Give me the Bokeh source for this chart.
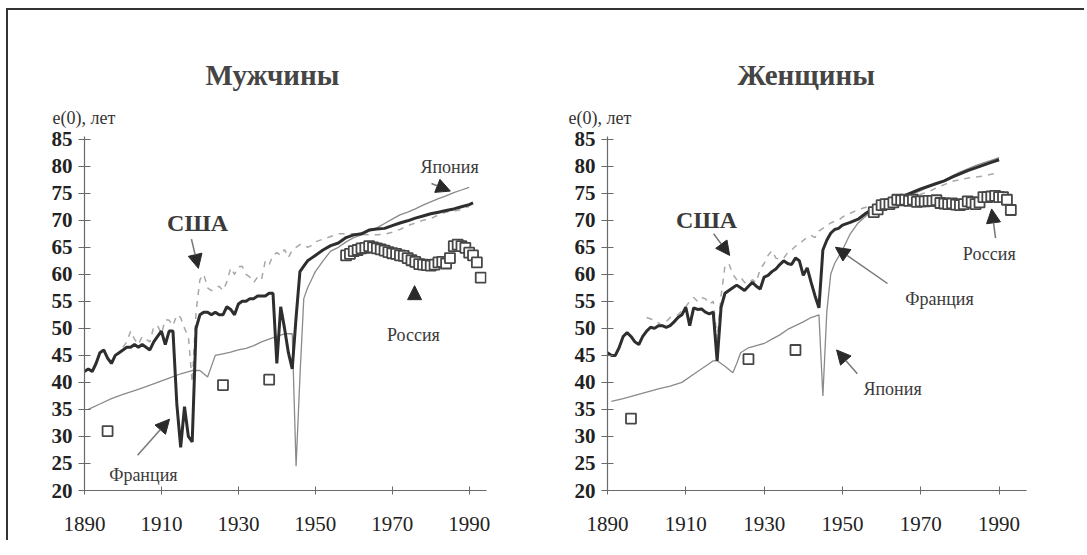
from bokeh.plotting import figure
from bokeh.models import Range1d, FixedTicker, Label, Arrow, NormalHead, Title
from bokeh.layouts import row
from bokeh.embed import file_html
from bokeh.resources import INLINE

# ---------------- data: men ----------------
fr_m_years = [1890, 1891, 1892, 1893, 1894, 1895, 1896, 1897, 1898, 1899,
              1900, 1901, 1902, 1903, 1904, 1905, 1906, 1907, 1908, 1909,
              1910, 1911, 1912, 1913, 1914, 1915, 1916, 1917, 1918, 1919,
              1920, 1921, 1922, 1923, 1924, 1925, 1926, 1927, 1928, 1929,
              1930, 1931, 1932, 1933, 1934, 1935, 1936, 1937, 1938, 1939,
              1940, 1941, 1942, 1943, 1944, 1945, 1946, 1947, 1948, 1949,
              1950, 1952, 1954, 1956, 1958, 1960, 1962, 1964, 1966, 1968,
              1970, 1972, 1974, 1976, 1978, 1980, 1982, 1984, 1986, 1988,
              1990, 1991]
fr_m_vals = [42.0, 42.5, 42.0, 43.5, 45.5, 46.0, 44.5, 43.5, 45.0, 45.5,
             46.0, 46.5, 46.5, 47.0, 46.5, 47.0, 46.5, 46.0, 47.5, 48.5,
             49.5, 47.0, 49.5, 49.5, 36.0, 28.0, 35.5, 30.0, 29.0, 50.0,
             52.5, 53.0, 53.0, 52.5, 53.0, 52.5, 52.5, 54.0, 53.5, 52.5,
             54.5, 55.0, 55.0, 55.5, 55.5, 56.0, 56.0, 56.0, 56.5, 56.5,
             43.5, 54.0, 50.0, 45.5, 42.5, 52.0, 60.5, 61.5, 62.5, 63.0,
             63.5, 64.5, 65.3, 65.8, 66.8, 67.3, 67.5, 68.2, 68.4, 68.5,
             69.0, 69.5, 69.9, 70.4, 70.8, 71.2, 71.5, 71.8, 72.1, 72.5,
             72.9, 73.2]

jp_m_years = [1891, 1894, 1897, 1900, 1903, 1906, 1909, 1912, 1915, 1918,
              1920, 1922, 1924, 1926, 1928, 1930, 1932, 1934, 1936, 1938,
              1940, 1942, 1944, 1945, 1946, 1947, 1948, 1949, 1950, 1952,
              1954, 1956, 1958, 1960, 1962, 1964, 1966, 1968, 1970, 1972,
              1974, 1976, 1978, 1980, 1982, 1984, 1986, 1988, 1990]
jp_m_vals = [35.0, 36.0, 37.0, 37.8, 38.5, 39.2, 40.0, 40.8, 41.6, 42.2,
             42.2, 41.0, 45.0, 45.3, 45.6, 46.0, 46.3, 46.8, 47.5, 48.0,
             48.5, 49.0, 49.0, 24.5, 41.0, 55.5, 57.5, 59.0, 60.5, 62.5,
             64.3, 65.0, 66.0, 66.8, 67.3, 68.0, 68.6, 69.4, 70.2, 71.0,
             71.5, 72.1, 72.8, 73.4, 74.0, 74.5, 75.1, 75.6, 76.1]

us_m_years = [1900, 1901, 1902, 1903, 1904, 1905, 1906, 1907, 1908, 1909,
              1910, 1911, 1912, 1913, 1914, 1915, 1916, 1917, 1918, 1919,
              1920, 1921, 1922, 1923, 1924, 1925, 1926, 1927, 1928, 1929,
              1930, 1931, 1932, 1933, 1934, 1935, 1936, 1937, 1938, 1939,
              1940, 1941, 1942, 1943, 1944, 1945, 1946, 1947, 1948, 1949,
              1950, 1952, 1954, 1956, 1958, 1960, 1962, 1964, 1966, 1968,
              1970, 1972, 1974, 1976, 1978, 1980, 1982, 1984, 1986, 1988,
              1990]
us_m_vals = [46.5, 47.5, 49.5, 48.0, 47.0, 48.5, 48.0, 47.5, 50.3, 50.5,
             49.0, 51.6, 51.5, 50.5, 52.5, 52.0, 50.0, 48.5, 40.0, 53.0,
             59.0, 60.0, 57.5, 57.0, 57.3, 57.8, 57.0, 58.6, 61.2, 60.0,
             61.4, 61.5, 60.0, 59.5, 58.5, 59.5, 59.0, 62.5, 61.8, 63.5,
             64.0, 63.5, 64.6, 63.1, 64.5, 65.0, 65.5, 65.5, 65.0, 65.3,
             66.0, 66.5, 67.0, 67.5, 67.5, 67.5, 67.4, 67.3, 67.3, 67.4,
             67.8, 68.3, 69.0, 69.5, 70.0, 70.3, 71.0, 71.5, 71.7, 72.0,
             72.6]

ru_m_years = [1896, 1926, 1938,
              1958, 1959, 1960, 1961, 1962, 1963, 1964, 1965, 1966, 1967,
              1968, 1969, 1970, 1971, 1972, 1973, 1974, 1975, 1976, 1977,
              1978, 1979, 1980, 1981, 1982, 1983, 1984, 1985, 1986, 1987,
              1988, 1989, 1990, 1991, 1992, 1993]
ru_m_vals = [31.0, 39.5, 40.5,
             63.5, 63.8, 64.3, 64.5, 64.8, 64.9, 65.2, 65.0, 64.8, 64.6,
             64.4, 64.1, 63.9, 63.8, 63.5, 63.4, 63.0, 62.6, 62.3, 61.9,
             61.8, 61.7, 61.6, 61.8, 62.2, 62.3, 62.0, 63.0, 65.2, 65.5,
             65.2, 64.9, 64.0, 63.5, 62.2, 59.4]

# ---------------- data: women ----------------
fr_f_years = [1890, 1891, 1892, 1893, 1894, 1895, 1896, 1897, 1898, 1899,
              1900, 1901, 1902, 1903, 1904, 1905, 1906, 1907, 1908, 1909,
              1910, 1911, 1912, 1913, 1914, 1915, 1916, 1917, 1918, 1919,
              1920, 1921, 1922, 1923, 1924, 1925, 1926, 1927, 1928, 1929,
              1930, 1931, 1932, 1933, 1934, 1935, 1936, 1937, 1938, 1939,
              1940, 1941, 1942, 1943, 1944, 1945, 1946, 1947, 1948, 1949,
              1950, 1952, 1954, 1956, 1958, 1960, 1962, 1964, 1966, 1968,
              1970, 1972, 1974, 1976, 1978, 1980, 1982, 1984, 1986, 1988,
              1990]
fr_f_vals = [45.5, 45.0, 45.0, 46.5, 48.5, 49.2, 48.5, 47.5, 47.0, 48.5,
             49.5, 50.2, 50.0, 50.5, 50.5, 50.2, 50.5, 51.2, 52.0, 52.5,
             53.9, 50.5, 53.8, 53.5, 53.6, 53.0, 52.7, 53.0, 44.0, 53.9,
             56.5, 57.0, 57.5, 58.0, 57.5, 57.0, 57.8, 58.5, 57.8, 57.3,
             59.5, 59.8, 60.5, 61.0, 61.8, 62.5, 62.0, 61.8, 63.0, 62.5,
             59.8, 61.2, 58.5, 56.0, 53.8, 64.5, 66.3, 67.6, 68.3, 68.5,
             69.1, 69.6, 70.2, 71.3, 72.2, 72.8, 73.2, 74.0, 74.6, 75.2,
             75.8, 76.3, 76.8, 77.3, 78.0, 78.6, 79.2, 79.7, 80.2, 80.7,
             81.2]

jp_f_years = [1891, 1894, 1897, 1900, 1903, 1906, 1909, 1912, 1915, 1917,
              1918, 1920, 1922, 1923, 1924, 1926, 1928, 1930, 1932, 1934,
              1936, 1938, 1940, 1942, 1944, 1945, 1946, 1947, 1948, 1950,
              1952, 1954, 1956, 1958, 1960, 1962, 1964, 1966, 1968, 1970,
              1972, 1974, 1976, 1978, 1980, 1982, 1984, 1986, 1988, 1990]
jp_f_vals = [36.5, 37.0, 37.6, 38.2, 38.8, 39.3, 40.0, 41.5, 43.0, 44.0,
             44.0, 43.0, 41.8, 43.5, 45.5, 46.4, 46.8, 47.2, 48.0, 48.8,
             49.8, 50.5, 51.2, 52.0, 52.5, 37.5, 53.0, 60.0, 62.0, 64.5,
             67.5, 69.5, 70.8, 71.8, 72.5, 73.2, 73.8, 74.3, 74.9, 75.5,
             76.2, 76.8, 77.4, 78.2, 78.9, 79.5, 80.1, 80.6, 81.1, 81.6]

us_f_years = [1900, 1902, 1904, 1906, 1908, 1910, 1911, 1912, 1913, 1914,
              1915, 1916, 1917, 1918, 1919, 1920, 1921, 1922, 1923, 1924,
              1925, 1926, 1927, 1928, 1929, 1930, 1931, 1932, 1933, 1934,
              1935, 1936, 1937, 1938, 1939, 1940, 1941, 1942, 1943, 1944,
              1945, 1946, 1947, 1948, 1949, 1950, 1952, 1954, 1956, 1958,
              1960, 1962, 1964, 1966, 1968, 1970, 1972, 1974, 1976, 1978,
              1980, 1982, 1984, 1986, 1988, 1990]
us_f_vals = [52.0, 51.5, 50.5, 52.0, 52.5, 54.0, 55.0, 55.7, 55.0, 55.7,
             55.5, 54.5, 55.0, 48.0, 56.0, 61.5, 62.0, 60.0, 59.0, 59.5,
             58.5, 58.3, 59.0, 58.5, 61.0, 62.0, 63.5, 64.4, 63.0, 62.8,
             63.0, 64.0, 64.5, 65.2, 65.5, 66.3, 66.8, 67.2, 66.8, 68.0,
             68.5, 69.0, 69.5, 69.8, 70.0, 70.6, 71.3, 72.0, 72.4, 72.8,
             73.2, 73.5, 73.8, 74.0, 74.3, 74.8, 75.3, 76.0, 76.6, 77.2,
             77.5, 77.8, 78.0, 78.2, 78.5, 78.8]

ru_f_years = [1896, 1926, 1938,
              1958, 1959, 1960, 1961, 1962, 1963, 1964, 1965, 1966, 1967,
              1968, 1969, 1970, 1971, 1972, 1973, 1974, 1975, 1976, 1977,
              1978, 1979, 1980, 1981, 1982, 1983, 1984, 1985, 1986, 1987,
              1988, 1989, 1990, 1991, 1992, 1993]
ru_f_vals = [33.3, 44.3, 46.0,
             71.5, 72.0, 72.8, 73.0, 73.0, 73.3, 73.8, 73.7, 73.8, 73.6,
             73.8, 73.4, 73.5, 73.5, 73.6, 73.6, 73.7, 73.2, 73.1, 73.0,
             73.1, 72.9, 72.8, 73.0, 73.5, 73.3, 73.0, 73.3, 74.3, 74.3,
             74.4, 74.5, 74.3, 74.3, 73.8, 71.9]

x_ticks = [1890, 1910, 1930, 1950, 1970, 1990]
y_ticks = [20, 25, 30, 35, 40, 45, 50, 55, 60, 65, 70, 75, 80, 85]

SERIF = "Liberation Serif"
C_FR = "#2e2e2e"
C_JP = "#8a8a8a"
C_US = "#a8a8a8"
C_RU = "#474747"


def make_panel(title, x_end, frame_w, border_left, border_right,
               fr, jp, us, ru, title_offset, ylab_offset, labels, arrows):
    p = figure(frame_width=frame_w, frame_height=354,
               min_border_left=border_left, min_border_right=border_right,
               min_border_top=126, min_border_bottom=50,
               x_range=Range1d(1890, x_end), y_range=Range1d(20, 85.5),
               output_backend="svg", toolbar_location=None,
               background_fill_color="white", border_fill_color="white")
    p.outline_line_color = None
    p.grid.visible = False

    for ax in (p.xaxis[0], p.yaxis[0]):
        ax.axis_line_color = "#6a6a6a"
        ax.axis_line_width = 1.2
        ax.major_tick_line_color = "#6a6a6a"
        ax.minor_tick_line_color = None
        ax.major_label_text_font = SERIF
        ax.major_label_text_color = "#222222"
    p.xaxis.ticker = FixedTicker(ticks=x_ticks)
    p.yaxis.ticker = FixedTicker(ticks=y_ticks)
    p.xaxis.major_tick_in = 4
    p.xaxis.major_tick_out = 4
    p.yaxis.major_tick_in = 6
    p.yaxis.major_tick_out = 6
    p.xaxis.major_label_standoff = 22
    p.yaxis.major_label_standoff = 6
    p.xaxis.major_label_text_font_size = "21px"
    p.yaxis.major_label_text_font_size = "21px"
    p.yaxis.major_label_text_font_style = "bold"

    p.line(us[0], us[1], line_color=C_US, line_width=1.5, line_dash="6 6")
    p.line(jp[0], jp[1], line_color=C_JP, line_width=1.3)
    p.line(fr[0], fr[1], line_color=C_FR, line_width=3)
    p.scatter(ru[0], ru[1], marker="square", size=10, fill_color="white",
              line_color=C_RU, line_width=1.8)

    # titles stacked above the frame (first added is nearest the frame)
    p.add_layout(Title(text="e(0),  лет", align="left", offset=ylab_offset,
                       text_font=SERIF, text_font_size="18px",
                       text_font_style="normal", text_color="#333333",
                       standoff=18), "above")
    p.add_layout(Title(text=title, align="left", offset=title_offset,
                       text_font=SERIF, text_font_size="29px",
                       text_font_style="bold", text_color="#454545",
                       standoff=12), "above")

    for (tx, ty, txt, size, bold) in labels:
        p.add_layout(Label(x=tx, y=ty, text=txt, text_font=SERIF,
                           text_font_size=size,
                           text_font_style="bold" if bold else "normal",
                           text_color="#3a3a3a", text_align="center",
                           text_baseline="middle"))
    for (x0, y0, x1, y1) in arrows:
        p.add_layout(Arrow(end=NormalHead(size=14, fill_color="#2a2a2a",
                                          line_color="#2a2a2a"),
                           x_start=x0, y_start=y0, x_end=x1, y_end=y1,
                           line_color="#777777", line_width=1.5))
    return p


p1 = make_panel(
    "Мужчины", 1994.5, 402, 76, 40,
    (fr_m_years, fr_m_vals), (jp_m_years, jp_m_vals),
    (us_m_years, us_m_vals), (ru_m_years, ru_m_vals),
    121, -32,
    [(1919.4, 69.5, "США", "24px", True),
     (1984.9, 79.9, "Япония", "18px", False),
     (1975.5, 48.8, "Россия", "18px", False),
     (1905.3, 22.8, "Франция", "18px", False)],
    [(1917.8, 66.5, 1919.6, 61.1),
     (1980.2, 76.8, 1985.1, 75.4),
     (1975.8, 55.6, 1975.8, 57.9),
     (1903.8, 26.5, 1912.1, 33.2)])

p2 = make_panel(
    "Женщины", 1997.0, 419, 81, 58,
    (fr_f_years, fr_f_vals), (jp_f_years, jp_f_vals),
    (us_f_years, us_f_vals), (ru_f_years, ru_f_vals),
    130, -39,
    [(1915.3, 70.1, "США", "24px", True),
     (1987.5, 63.7, "Россия", "18px", False),
     (1974.8, 55.4, "Франция", "18px", False),
     (1962.8, 38.8, "Япония", "18px", False)],
    [(1917.1, 67.5, 1921.2, 63.5),
     (1989.1, 66.7, 1988.1, 72.1),
     (1961.5, 58.3, 1948.2, 65.0),
     (1953.8, 41.6, 1948.5, 46.0)])

layout = row(p1, p2, styles={"margin-top": "8px", "margin-left": "6px",
                             "border-top": "2px solid #333333",
                             "border-left": "2px solid #333333"})

open("out.html", "w").write(file_html(layout, INLINE))
